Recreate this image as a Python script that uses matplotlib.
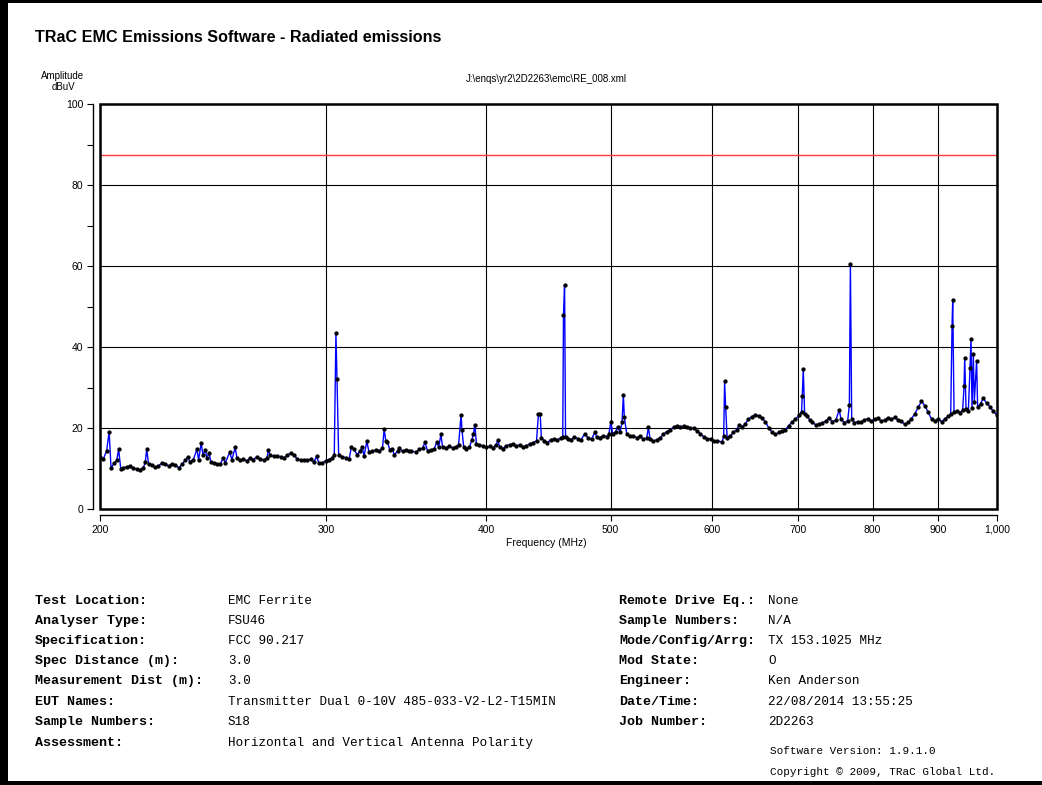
import matplotlib
matplotlib.use("Agg")
import matplotlib.pyplot as plt
from matplotlib.patches import Rectangle
from matplotlib.ticker import FixedLocator, FuncFormatter, NullLocator, MultipleLocator

# ---------------- data ----------------
freq_mhz = [
    200.0, 201.2, 202.4, 203.3, 204.0, 205.1, 206.1, 206.8, 207.6, 208.5,
    209.8, 211.1, 212.3, 213.6, 214.9, 216.2, 216.9, 217.5, 218.2, 219.5,
    220.8, 222.1, 223.5, 224.8, 226.2, 227.5, 228.9, 230.3, 231.7, 233.0,
    234.0, 235.1, 236.5, 238.0, 238.7, 239.8, 240.6, 241.6, 242.3, 243.3,
    244.0, 245.2, 246.6, 248.2, 249.4, 250.4, 252.4, 253.4, 254.9, 255.7,
    257.3, 258.7, 260.3, 261.9, 263.4, 265.0, 266.7, 268.2, 269.8, 270.6,
    271.5, 273.1, 274.8, 276.5, 278.2, 279.9, 281.5, 283.2, 285.0, 286.6,
    288.3, 290.1, 291.8, 293.6, 295.0, 296.2, 298.0, 299.8, 301.5, 303.3,
    304.5, 305.4, 306.0, 306.9, 308.9, 310.7, 312.7, 314.0, 315.4, 317.3,
    318.9, 320.2, 321.2, 322.8, 324.1, 326.1, 328.1, 330.0, 332.0, 333.0,
    334.0, 335.0, 336.4, 338.0, 339.0, 341.1, 342.1, 344.2, 346.3, 348.4,
    349.4, 352.5, 354.6, 356.8, 358.3, 360.0, 362.2, 364.3, 366.1, 367.2,
    368.7, 369.8, 372.0, 374.3, 376.5, 378.8, 380.6, 382.3, 382.9, 384.1,
    385.7, 388.0, 389.7, 390.9, 391.8, 393.0, 395.1, 397.5, 399.9, 402.3,
    404.7, 407.1, 408.4, 409.6, 412.0, 414.5, 417.0, 419.6, 422.1, 424.6,
    427.2, 429.8, 432.4, 435.0, 437.7, 439.2, 440.6, 441.5, 443.7, 446.3,
    449.0, 451.7, 454.4, 457.2, 458.8, 459.4, 460.3, 461.1, 463.3, 466.0,
    468.3, 471.1, 473.9, 477.3, 480.2, 483.1, 486.0, 487.5, 490.4, 493.4,
    496.4, 498.4, 500.2, 501.7, 504.4, 506.3, 508.4, 510.3, 511.5, 512.4,
    514.6, 517.6, 520.8, 523.9, 527.0, 530.2, 533.4, 535.0, 536.6, 539.9,
    543.1, 546.4, 549.7, 553.0, 556.4, 559.7, 563.1, 566.5, 570.0, 573.4,
    576.9, 580.4, 583.9, 587.4, 591.0, 594.6, 598.2, 601.8, 605.4,
    610.6, 612.4, 613.4, 614.5, 616.2, 619.5, 623.2, 626.9, 629.6, 632.6,
    636.4, 640.2, 644.1, 648.0, 651.9, 655.8, 659.8, 663.8, 667.8, 671.8,
    675.9, 680.0, 684.1, 688.3, 692.4, 696.6, 700.9, 704.2, 705.1, 706.4,
    708.1, 711.5, 714.5, 718.0, 722.3, 726.7, 731.1, 735.5, 739.9, 744.4,
    748.9, 753.4, 755.7, 760.3, 765.0, 767.3, 768.7, 770.5, 774.2, 778.9,
    783.6, 788.4, 793.1, 797.9, 802.8, 807.6, 812.5, 817.4, 822.3, 827.3,
    832.3, 837.3, 842.4, 847.4, 852.6, 857.7, 862.9, 868.1, 873.3, 878.6,
    883.9, 889.2, 894.6, 900.0, 905.4, 910.9, 916.4, 920.3, 922.5, 923.6,
    925.8, 930.3, 935.9, 940.2, 942.6, 943.7, 946.0, 949.9, 952.7, 954.4,
    956.2, 958.4, 960.1, 964.1, 965.8, 971.0, 975.6, 981.5, 987.4, 993.3,
    999.2,
]
level_dbuv = [
    12.8, 12.3, 14.4, 19.1, 10.1, 11.3, 12.0, 14.8, 9.8, 10.2,
    10.4, 10.6, 10.1, 9.8, 9.7, 10.2, 11.5, 14.8, 11.0, 10.8,
    10.3, 10.6, 11.4, 11.2, 10.6, 11.2, 10.8, 10.2, 11.0, 12.0,
    12.8, 11.6, 12.2, 14.8, 12.0, 16.3, 13.3, 14.6, 12.7, 13.8,
    11.6, 11.3, 11.2, 11.0, 12.6, 11.4, 14.0, 12.2, 15.2, 12.6,
    12.0, 12.3, 11.9, 12.6, 12.2, 12.9, 12.4, 12.1, 12.5, 14.5,
    13.3, 13.0, 13.2, 12.9, 12.6, 13.3, 13.8, 13.3, 12.4, 12.1,
    12.2, 12.0, 12.3, 11.6, 13.0, 11.3, 11.4, 11.9, 12.2, 12.6,
    13.3, 43.5, 32.0, 13.3, 12.9, 12.7, 12.3, 15.3, 14.7, 13.4,
    14.4, 15.3, 13.0, 16.7, 14.0, 14.3, 14.6, 14.3, 15.0, 19.7,
    16.8, 16.5, 14.6, 14.9, 13.4, 14.2, 15.0, 14.2, 14.6, 14.4,
    14.4, 14.0, 14.7, 15.0, 16.5, 14.3, 14.6, 14.9, 16.6, 15.2,
    18.4, 15.3, 15.0, 15.6, 15.1, 15.4, 15.9, 23.3, 19.5, 15.3,
    14.9, 15.2, 17.0, 18.5, 20.8, 16.0, 15.9, 15.6, 15.2, 15.5,
    15.0, 15.9, 17.0, 15.3, 14.9, 15.6, 15.9, 16.0, 15.6, 15.8,
    15.3, 15.6, 16.1, 16.4, 16.8, 23.4, 23.4, 17.6, 16.9, 16.4,
    17.1, 17.3, 17.0, 17.6, 17.9, 47.8, 55.4, 17.8, 17.4, 17.1,
    17.9, 17.4, 17.0, 18.6, 17.5, 17.2, 19.0, 17.8, 17.6, 18.1,
    17.9, 18.5, 21.6, 18.6, 19.0, 20.3, 19.0, 21.4, 28.2, 22.6,
    18.6, 18.0, 18.1, 17.6, 18.0, 17.3, 17.5, 20.2, 17.3, 16.8,
    17.1, 17.6, 18.5, 19.1, 19.6, 20.2, 20.6, 20.3, 20.5, 20.2,
    20.0, 19.9, 19.3, 18.6, 17.8, 17.4, 17.3, 16.8, 16.9,
    16.5, 18.0, 31.5, 25.3, 17.5, 18.1, 18.9, 19.6, 20.8, 20.2,
    21.0, 22.2, 22.8, 23.3, 23.0, 22.5, 21.6, 20.1, 19.0, 18.4,
    18.9, 19.3, 19.6, 20.6, 21.5, 22.2, 23.1, 24.0, 27.8, 34.6,
    23.4, 23.0, 22.0, 21.4, 20.8, 20.9, 21.3, 21.7, 22.4, 21.6,
    21.9, 24.5, 22.3, 21.3, 21.8, 25.7, 60.6, 22.2, 21.3, 21.6,
    21.4, 22.0, 22.3, 21.8, 22.1, 22.4, 21.7, 22.0, 22.5, 22.1,
    22.6, 22.0, 21.7, 20.9, 21.4, 22.3, 23.5, 25.1, 26.6, 25.5,
    23.9, 22.2, 21.7, 22.2, 21.6, 22.3, 22.9, 23.5, 45.1, 51.6,
    24.0, 24.1, 23.8, 24.4, 30.3, 37.3, 24.6, 24.2, 34.8, 42.0,
    25.0, 38.3, 26.5, 36.6, 25.2, 26.0, 27.4, 26.1, 25.3, 24.1,
    23.3,
]
limit_dbuv = 87.4
x_ticks = [200, 300, 400, 500, 600, 700, 800, 900, 1000]
y_ticks = [0, 20, 40, 60, 80, 100]

title_text = "TRaC EMC Emissions Software - Radiated emissions"
file_text = r"J:\enqs\yr2\2D2263\emc\RE_008.xml"

left_labels = ["Test Location:", "Analyser Type:", "Specification:", "Spec Distance (m):",
               "Measurement Dist (m):", "EUT Names:", "Sample Numbers:", "Assessment:"]
left_values = ["EMC Ferrite", "FSU46", "FCC 90.217", "3.0", "3.0",
               "Transmitter Dual 0-10V 485-033-V2-L2-T15MIN", "S18",
               "Horizontal and Vertical Antenna Polarity"]
right_labels = ["Remote Drive Eq.:", "Sample Numbers:", "Mode/Config/Arrg:", "Mod State:",
                "Engineer:", "Date/Time:", "Job Number:"]
right_values = ["None", "N/A", "TX 153.1025 MHz", "O", "Ken Anderson",
                "22/08/2014 13:55:25", "2D2263"]
footer_lines = ["Software Version: 1.9.1.0", "Copyright \u00a9 2009, TRaC Global Ltd."]

# ---------------- figure ----------------
plt.rcParams['font.family'] = ['Liberation Sans', 'DejaVu Sans']
W, H = 1042, 785
fig = plt.figure(figsize=(W / 100, H / 100), dpi=100)
fig.patch.set_facecolor('white')


def fx(px):
    return px / W


def fy(py):
    return 1 - py / H


# page border (left, top, bottom)
fig.add_artist(Rectangle((0, 0), fx(8), 1, transform=fig.transFigure,
                         color='black', lw=0, zorder=10))
fig.add_artist(Rectangle((0, fy(3)), 1, 3 / H, transform=fig.transFigure,
                         color='black', lw=0, zorder=10))
fig.add_artist(Rectangle((0, 0), 1, 4 / H, transform=fig.transFigure,
                         color='black', lw=0, zorder=10))

ax = fig.add_axes([fx(100), fy(509), fx(997) - fx(100), fy(104) - fy(509)])
ax.set_xscale('log')
ax.set_xlim(200, 1000)
ax.set_ylim(0, 100)

ax.plot(freq_mhz, level_dbuv, color='#0000ff', lw=1.0, marker='o', ms=3.1,
        mfc='black', mec='black', mew=0, zorder=3)
ax.axhline(limit_dbuv, color='#ff3b3b', lw=1.0, zorder=2)

ax.xaxis.set_major_locator(FixedLocator(x_ticks))
ax.xaxis.set_minor_locator(NullLocator())
ax.xaxis.set_major_formatter(FuncFormatter(lambda v, p: f"{int(round(v)):,}"))
ax.yaxis.set_major_locator(FixedLocator(y_ticks))
ax.yaxis.set_minor_locator(MultipleLocator(10))

ax.grid(True, which='major', color='black', lw=0.8, zorder=1)
ax.set_axisbelow(True)

for s in ['top', 'right']:
    ax.spines[s].set_visible(False)
ax.spines['left'].set_position(('outward', 5))
ax.spines['bottom'].set_position(('outward', 4.5))
ax.spines['left'].set_linewidth(1.0)
ax.spines['bottom'].set_linewidth(1.0)
ax.add_patch(Rectangle((0, 0), 1, 1, transform=ax.transAxes, fill=False,
                       lw=1.8, ec='black', clip_on=False, zorder=5))

ax.tick_params(axis='both', which='major', direction='out', length=4.5,
               width=0.8, labelsize=7.5, pad=2.5)
ax.tick_params(axis='y', which='minor', direction='out', length=4.5, width=0.8)

# texts
fig.text(fx(35), fy(38), title_text, fontsize=11.6, fontweight='bold',
         ha='left', va='center')
fig.text(fx(63), fy(76), "Amplitude", fontsize=7, ha='center', va='center')
fig.text(fx(63), fy(87), "dBuV", fontsize=7, ha='center', va='center')
fig.text(fx(546), fy(79), file_text, fontsize=7, ha='center', va='center')
fig.text(fx(546), fy(543), "Frequency (MHz)", fontsize=7.5, ha='center', va='center')

row_y = [601, 621, 641, 661, 681, 702, 722, 743]
mono = ['Liberation Mono', 'DejaVu Sans Mono']
for yy, lab, val in zip(row_y, left_labels, left_values):
    fig.text(fx(35), fy(yy), lab, family=mono, fontweight='bold', fontsize=9.6,
             ha='left', va='center')
    fig.text(fx(228), fy(yy), val, family=mono, fontsize=9.1,
             ha='left', va='center')
for yy, lab, val in zip(row_y, right_labels, right_values):
    fig.text(fx(619), fy(yy), lab, family=mono, fontweight='bold', fontsize=9.6,
             ha='left', va='center')
    fig.text(fx(768), fy(yy), val, family=mono, fontsize=9.1,
             ha='left', va='center')
fig.text(fx(770), fy(751), footer_lines[0], family=mono, fontsize=7.9,
         ha='left', va='center')
fig.text(fx(770), fy(772), footer_lines[1], family=mono, fontsize=7.9,
         ha='left', va='center')

fig.savefig("out.png", dpi=100, facecolor='white')
